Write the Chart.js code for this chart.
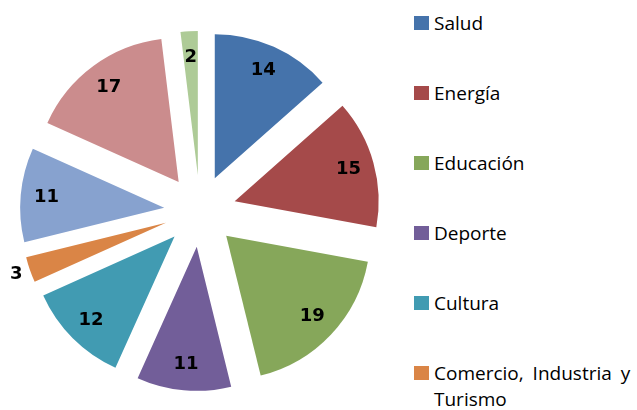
<!DOCTYPE html>
<html><head><meta charset="utf-8">
<script src="https://cdn.jsdelivr.net/npm/chart.js@4/dist/chart.umd.min.js"></script>
<style>
html,body{margin:0;padding:0;background:#fff;width:637px;height:410px;overflow:hidden;}
#wrap{position:absolute;left:0;top:0;width:400px;height:410px;}
#legend{position:absolute;left:414px;top:0;width:223px;height:410px;font-family:"Open Sans",sans-serif;font-size:19px;color:#000;}
.item{position:absolute;left:0;width:223px;}
.sw{position:absolute;left:0;top:4.6px;width:15px;height:14px;}
.tx{position:absolute;left:20px;top:0;line-height:25.5px;width:203px;word-spacing:4px;white-space:normal;}
</style></head>
<body>
<div id="wrap"><canvas id="c"></canvas></div>
<div id="legend"></div>
<script>
// Data
const categories = ['Salud', 'Energía', 'Educación', 'Deporte', 'Cultura', 'Comercio, Industria y Turismo', '', '', ''];
const values = [14, 15, 19, 11, 12, 3, 11, 17, 2];
const colors = ['#4573AB', '#A54A4A', '#86A75A', '#725E99', '#419BB2', '#DA8546', '#87A2CF', '#CB8C8D', '#AECB97'];
const outsideLabels = ['Comercio, Industria y Turismo'];

const EXPLODE = 36;
const explodePlugin = {
  id: 'explode',
  afterDatasetsUpdate(chart) {
    chart.getDatasetMeta(0).data.forEach(arc => {
      const mid = (arc.startAngle + arc.endAngle) / 2;
      arc.x += Math.cos(mid) * EXPLODE;
      arc.y += Math.sin(mid) * EXPLODE;
    });
  }
};
const labelPlugin = {
  id: 'vals',
  afterDatasetsDraw(chart) {
    const ctx = chart.ctx;
    ctx.save();
    ctx.font = 'bold 18px "DejaVu Sans"';
    ctx.fillStyle = '#000';
    ctx.textAlign = 'center';
    ctx.textBaseline = 'middle';
    chart.getDatasetMeta(0).data.forEach((arc, i) => {
      const mid = (arc.startAngle + arc.endAngle) / 2;
      const r = outsideLabels.includes(categories[i]) ? arc.outerRadius * 1.1 : arc.outerRadius * 0.82;
      ctx.fillText(String(values[i]), arc.x + Math.cos(mid) * r, arc.y + Math.sin(mid) * r);
    });
    ctx.restore();
  }
};

new Chart(document.getElementById('c'), {
  type: 'pie',
  data: { labels: categories, datasets: [{ data: values, backgroundColor: colors, borderWidth: 0 }] },
  options: {
    responsive: true, maintainAspectRatio: false, animation: false, events: [],
    radius: 144,
    layout: { padding: { top: 12 } },
    plugins: { legend: { display: false }, tooltip: { enabled: false } }
  },
  plugins: [explodePlugin, labelPlugin]
});

// Legend
const leg = document.getElementById('legend');
categories.forEach((name, i) => {
  if (!name) return;
  const it = document.createElement('div');
  it.className = 'item';
  it.style.top = (11.1 + i * 70) + 'px';
  const sw = document.createElement('div');
  sw.className = 'sw';
  sw.style.background = colors[i];
  const tx = document.createElement('div');
  tx.className = 'tx';
  tx.textContent = name;
  it.appendChild(sw); it.appendChild(tx);
  leg.appendChild(it);
});
</script>
</body></html>
